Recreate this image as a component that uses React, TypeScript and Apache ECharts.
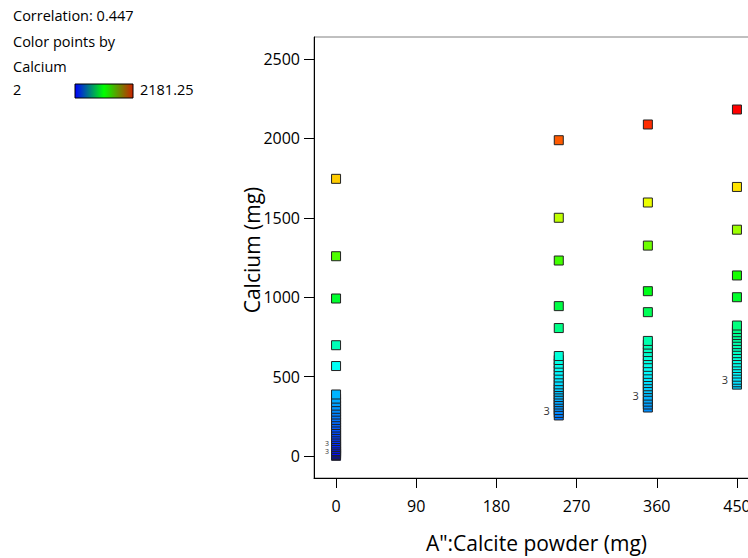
import React, { useEffect, useRef } from "react";
import * as echarts from "echarts";

// Calcite powder levels (mg)
const doseLevels = [0, 250, 350, 450];

// Calcium (mg) observed at each calcite powder level
const calciumAt0 = [1745, 1258, 992, 698, 567, 388, 362, 340, 318, 298, 280, 262, 245, 228, 212, 196, 180, 165, 150, 136, 122, 108, 95, 80, 68, 58, 46, 32, 24, 16, 8, 2];
const calciumAt250 = [1988, 1500, 1231, 944, 806, 630, 605, 582, 560, 538, 515, 495, 472, 452, 435, 420, 405, 388, 372, 355, 340, 325, 310, 290, 272, 256];
const calciumAt350 = [2087, 1596, 1325, 1038, 906, 725, 702, 680, 655, 630, 610, 585, 562, 540, 518, 498, 478, 460, 440, 422, 405, 381, 362, 343, 325, 306];
const calciumAt450 = [2181.25, 1694, 1425, 1137, 1000, 822, 800, 780, 762, 745, 725, 705, 688, 668, 648, 630, 610, 590, 572, 555, 538, 520, 500, 481, 465, 450];

// Points where several runs coincide: [dose, calcium, count]
const stackedPoints: [number, number, number][] = [
  [0, 80, 3],
  [0, 32, 3],
  [250, 290, 3],
  [350, 381, 3],
  [450, 481, 3],
];

const xTicks = [0, 90, 180, 270, 360, 450];
const yTicks = [0, 500, 1000, 1500, 2000, 2500];

const colorMin = 2;
const colorMax = 2181.25;
const correlation = "0.447";

const FONT = "'Segoe UI', 'Open Sans', 'Noto Sans', sans-serif";

export default function App() {
  const ref = useRef<HTMLDivElement>(null);

  useEffect(() => {
    if (!ref.current) return;
    const chart = echarts.init(ref.current, null, { renderer: "svg" });

    const groups = [calciumAt0, calciumAt250, calciumAt350, calciumAt450];
    const data: any[] = [];
    groups.forEach((vals, gi) => {
      const x = doseLevels[gi];
      const sorted = [...vals].sort((a, b) => a - b);
      sorted.forEach((v) => {
        const stack = stackedPoints.find((s) => s[0] === x && s[1] === v);
        if (stack) {
          const small = x === 0;
          data.push({
            value: [x, v],
            label: {
              show: true,
              formatter: String(stack[2]),
              position: "left",
              distance: small ? 2 : 4,
              fontSize: small ? 7 : 11,
              lineHeight: small ? 7 : 12,
              color: "#333",
              fontFamily: FONT,
            },
          });
        } else {
          data.push({ value: [x, v] });
        }
      });
    });

    chart.setOption({
      animation: false,
      backgroundColor: "#fff",
      grid: {
        left: 314,
        top: 37,
        width: 445,
        height: 443,
        show: true,
        borderColor: "#808080",
        borderWidth: 1,
      },
      xAxis: {
        type: "value",
        min: -24.75,
        max: 474.75,
        name: 'A":Calcite powder (mg)',
        nameLocation: "middle",
        nameGap: 54,
        nameTextStyle: { fontSize: 21, color: "#000", fontFamily: FONT },
        splitLine: { show: false },
        axisLine: { show: true, onZero: false, lineStyle: { color: "#000", width: 1 } },
        axisTick: { show: true, length: 10, customValues: xTicks, lineStyle: { color: "#000" } },
        axisLabel: { customValues: xTicks, margin: 20, fontSize: 16, color: "#000", fontFamily: FONT, formatter: (v: number) => String(v) },
      },
      yAxis: {
        type: "value",
        min: -137.5,
        max: 2637.5,
        splitLine: { show: false },
        axisLine: { show: true, onZero: false, lineStyle: { color: "#000", width: 1 } },
        axisTick: { show: true, length: 10, customValues: yTicks, lineStyle: { color: "#000" } },
        axisLabel: { customValues: yTicks, margin: 14, fontSize: 16, color: "#000", fontFamily: FONT, formatter: (v: number) => String(v) },
      },
      visualMap: {
        show: false,
        type: "continuous",
        min: colorMin,
        max: colorMax,
        dimension: 1,
        seriesIndex: 0,
        inRange: { color: ["#0000ff", "#00ffff", "#00ff00", "#ffff00", "#ff0000"] },
      },
      series: [
        {
          type: "scatter",
          symbol: "rect",
          symbolSize: 9,
          itemStyle: { borderColor: "#222", borderWidth: 1, opacity: 1 },
          data,
        },
      ],
      graphic: [
        {
          type: "text",
          x: 252,
          y: 250,
          rotation: Math.PI / 2,
          style: { text: "Calcium (mg)", fontSize: 21, fill: "#000", fontFamily: FONT, align: "center", verticalAlign: "middle" },
        },
        { type: "text", left: 13, top: 8, style: { text: "Correlation: " + correlation, fontSize: 14.5, fill: "#000", fontFamily: FONT } },
        { type: "text", left: 13, top: 34, style: { text: "Color points by", fontSize: 14.5, fill: "#000", fontFamily: FONT } },
        { type: "text", left: 13, top: 59, style: { text: "Calcium", fontSize: 14.5, fill: "#000", fontFamily: FONT } },
        { type: "text", left: 13, top: 82, style: { text: String(colorMin), fontSize: 14.5, fill: "#000", fontFamily: FONT } },
        {
          type: "rect",
          shape: { x: 75, y: 84, width: 58, height: 14 },
          style: {
            fill: new echarts.graphic.LinearGradient(0, 0, 1, 0, [
              { offset: 0, color: "#0000ff" },
              { offset: 0.5, color: "#00ff00" },
              { offset: 1, color: "#cc2200" },
            ]),
            stroke: "#000",
            lineWidth: 1,
          },
        },
        { type: "text", left: 140, top: 82, style: { text: String(colorMax), fontSize: 14.5, fill: "#000", fontFamily: FONT } },
      ],
    });

    return () => chart.dispose();
  }, []);

  return <div ref={ref} style={{ position: "fixed", left: 0, top: 0, width: 780, height: 558 }} />;
}
